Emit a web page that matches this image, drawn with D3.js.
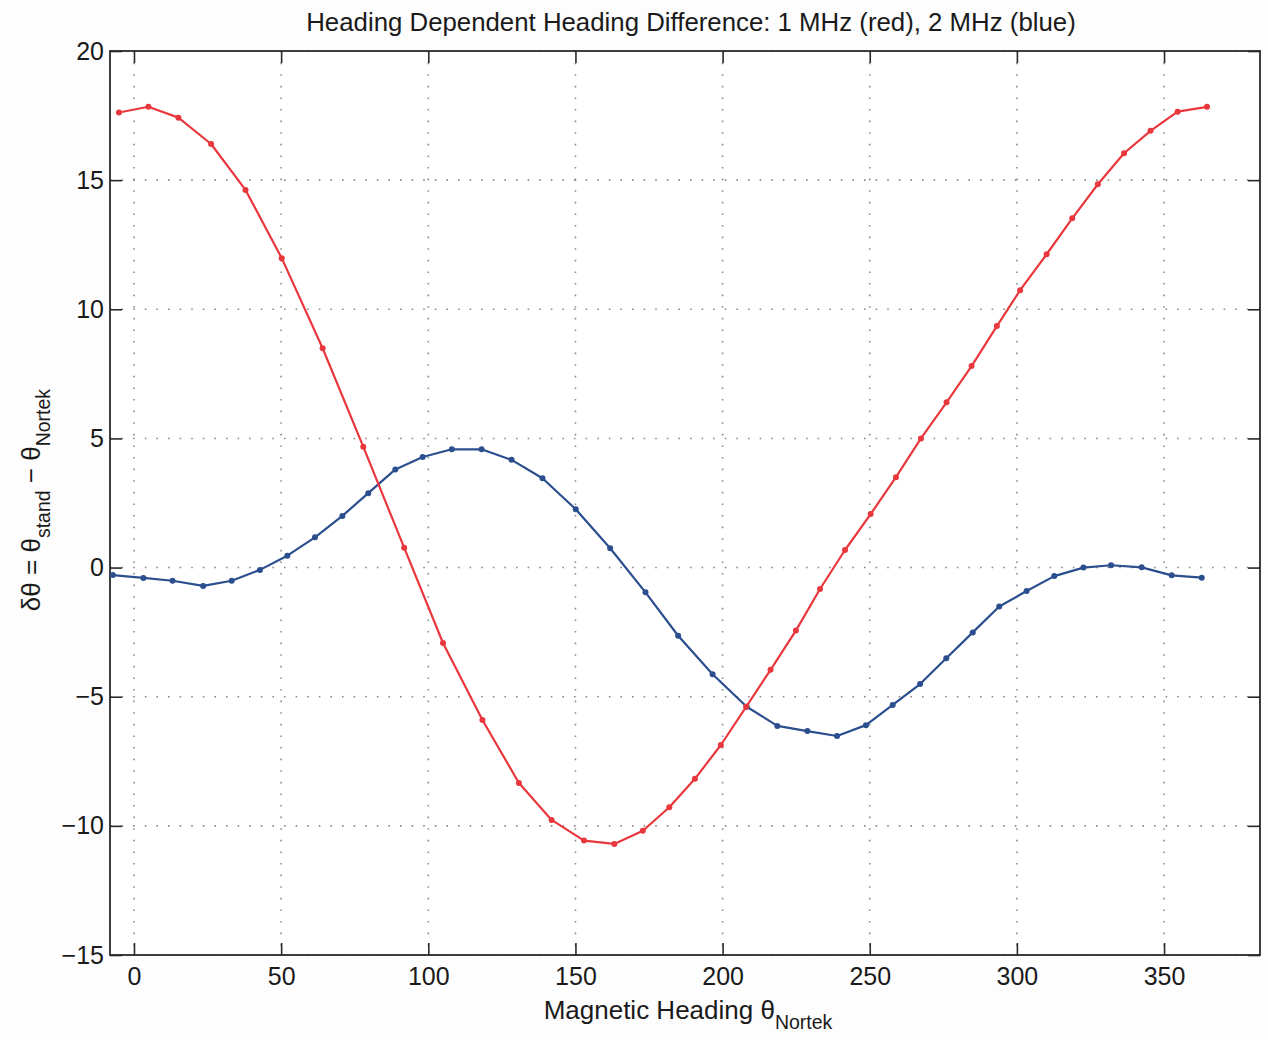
<!DOCTYPE html>
<html>
<head>
<meta charset="utf-8">
<script src="https://cdn.jsdelivr.net/npm/d3@7"></script>
<style>
  html, body { margin: 0; padding: 0; background: #fdfdfd; }
  svg { display: block; }
  text { font-family: "Liberation Sans", Arial, sans-serif; fill: #1a1a1a; }
</style>
</head>
<body>
<svg id="chart" width="1268" height="1040"></svg>
<script>
// ---- data ----
const titleText = "Heading Dependent Heading Difference: 1 MHz (red), 2 MHz (blue)";
const xTicks = [0, 50, 100, 150, 200, 250, 300, 350];
const yTicks = [-15, -10, -5, 0, 5, 10, 15, 20];

const redX = [-5.1, 4.9, 15.1, 26.2, 37.9, 50.2, 64.1, 77.9, 91.8, 105.0, 118.4, 130.8, 141.9, 152.9, 163.2, 172.9, 181.9, 190.6, 199.4, 208.0, 216.3, 224.9, 233.1, 241.6, 250.3, 258.9, 267.4, 276.1, 284.6, 293.2, 301.1, 310.1, 318.8, 327.5, 336.4, 345.4, 354.6, 364.6];
const redY = [17.62, 17.84, 17.42, 16.40, 14.62, 11.98, 8.49, 4.68, 0.77, -2.92, -5.90, -8.34, -9.77, -10.57, -10.70, -10.19, -9.28, -8.18, -6.87, -5.39, -3.96, -2.44, -0.83, 0.68, 2.07, 3.50, 5.00, 6.40, 7.80, 9.35, 10.74, 12.13, 13.52, 14.84, 16.04, 16.91, 17.65, 17.84];

const blueX = [-7.2, 3.2, 13.1, 23.5, 33.2, 42.8, 52.1, 61.5, 70.8, 79.6, 88.8, 98.1, 108.0, 118.1, 128.3, 138.8, 150.1, 161.8, 173.8, 184.9, 196.6, 208.2, 218.6, 228.8, 238.9, 248.7, 257.8, 267.1, 276.0, 285.0, 294.0, 303.3, 312.7, 322.6, 332.0, 342.4, 352.6, 362.8];
const blueY = [-0.29, -0.40, -0.51, -0.71, -0.51, -0.09, 0.46, 1.17, 2.00, 2.88, 3.80, 4.28, 4.58, 4.58, 4.17, 3.46, 2.26, 0.75, -0.96, -2.64, -4.13, -5.39, -6.13, -6.33, -6.52, -6.10, -5.32, -4.51, -3.51, -2.51, -1.51, -0.91, -0.33, 0.00, 0.09, 0.01, -0.30, -0.39];

// ---- layout ----
const margin = { left: 110, top: 51, right: 8, bottom: 85 };
const W = 1268, H = 1040;
const iw = W - margin.left - margin.right;   // 1150
const ih = H - margin.top - margin.bottom;   // 904

const svg = d3.select("#chart");
const g = svg.append("g").attr("transform", `translate(${margin.left},${margin.top})`);

const x = d3.scaleLinear().domain([-8.15, 382.6]).range([0, iw]);
const y = d3.scaleLinear().domain([-15, 20]).range([ih, 0]);

// background
g.append("rect").attr("width", iw).attr("height", ih).attr("fill", "#ffffff");

// grid
const grid = g.append("g").attr("class", "grid");
grid.selectAll("line.gx").data(xTicks).join("line")
  .attr("x1", d => x(d)).attr("x2", d => x(d))
  .attr("y1", 0).attr("y2", ih)
  .attr("stroke", "#8a8a8a").attr("stroke-width", 1.6)
  .attr("stroke-dasharray", "1.6,10");
grid.selectAll("line.gy").data(yTicks).join("line")
  .attr("x1", 0).attr("x2", iw)
  .attr("y1", d => y(d)).attr("y2", d => y(d))
  .attr("stroke", "#8a8a8a").attr("stroke-width", 1.6)
  .attr("stroke-dasharray", "1.6,10");

// axes (MATLAB-style inward ticks on all four sides)
const tickLen = 12;
const fs = 25;
const axB = g.append("g").attr("transform", `translate(0,${ih})`)
  .call(d3.axisBottom(x).tickValues(xTicks).tickSizeInner(-tickLen).tickSizeOuter(0).tickPadding(12).tickFormat(d3.format("d")));
const axT = g.append("g")
  .call(d3.axisTop(x).tickValues(xTicks).tickSizeInner(-tickLen).tickSizeOuter(0).tickFormat(""));
const axL = g.append("g")
  .call(d3.axisLeft(y).tickValues(yTicks).tickSizeInner(-tickLen).tickSizeOuter(0).tickPadding(6)
    .tickFormat(d => d < 0 ? "\u2212" + Math.abs(d) : String(d)));
const axR = g.append("g").attr("transform", `translate(${iw},0)`)
  .call(d3.axisRight(y).tickValues(yTicks).tickSizeInner(-tickLen).tickSizeOuter(0).tickFormat(""));

[axB, axT, axL, axR].forEach(a => {
  a.select(".domain").remove();
  a.selectAll(".tick line").attr("stroke", "#2a2a2a").attr("stroke-width", 1.6);
  a.selectAll(".tick text").attr("font-size", fs).attr("font-family", "Liberation Sans, Arial, sans-serif").attr("fill", "#1a1a1a");
});

// frame
g.append("rect").attr("width", iw).attr("height", ih)
  .attr("fill", "none").attr("stroke", "#2a2a2a").attr("stroke-width", 1.8);

// series
const line = d3.line().x(d => x(d[0])).y(d => y(d[1]));
const blue = blueX.map((v, i) => [v, blueY[i]]);
const red = redX.map((v, i) => [v, redY[i]]);

function drawSeries(data, color) {
  g.append("path").datum(data).attr("d", line)
    .attr("fill", "none").attr("stroke", color).attr("stroke-width", 2.2).attr("stroke-linejoin", "round");
  g.append("g").selectAll("circle").data(data).join("circle")
    .attr("cx", d => x(d[0])).attr("cy", d => y(d[1])).attr("r", 3)
    .attr("fill", color);
}
drawSeries(blue, "#2b4e8e");
drawSeries(red, "#e8383e");

// title
svg.append("text").attr("x", 691).attr("y", 31)
  .attr("text-anchor", "middle").attr("font-size", 25.8)
  .text(titleText);

// x label
const xl = svg.append("text").attr("x", 688).attr("y", 1019)
  .attr("text-anchor", "middle").attr("font-size", 26);
xl.append("tspan").text("Magnetic Heading \u03b8");
xl.append("tspan").attr("dy", 10).attr("font-size", 19.5).text("Nortek");

// y label
const yl = svg.append("text")
  .attr("transform", "translate(40,500) rotate(-90)")
  .attr("text-anchor", "middle").attr("font-size", 26);
yl.append("tspan").text("\u03b4\u03b8 = \u03b8");
yl.append("tspan").attr("dy", 10).attr("font-size", 19.5).text("stand");
yl.append("tspan").attr("dy", -10).text(" \u2212 \u03b8");
yl.append("tspan").attr("dy", 10).attr("font-size", 19.5).text("Nortek");
</script>
</body>
</html>
